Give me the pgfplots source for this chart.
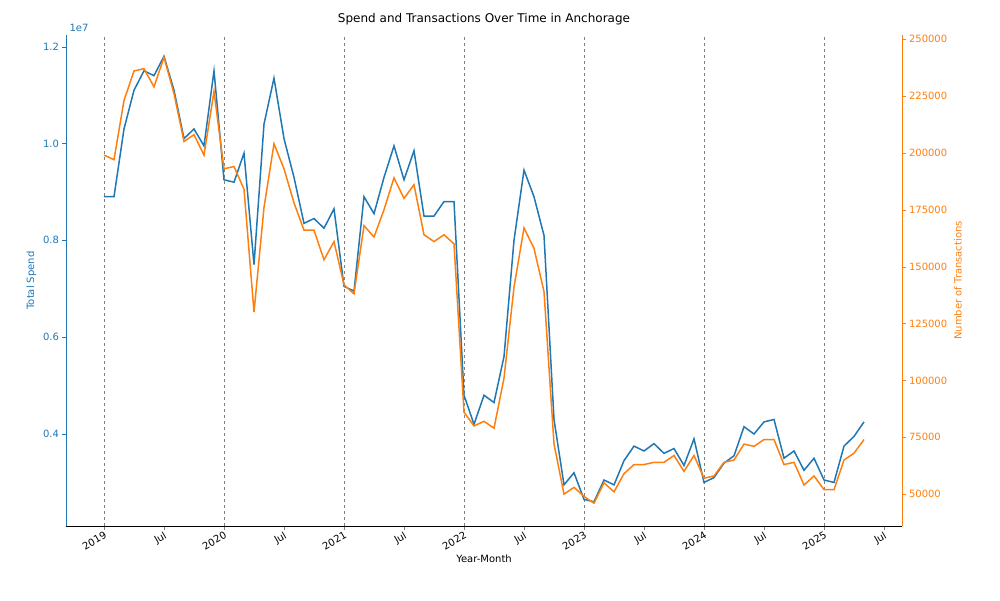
\documentclass[border=0pt]{standalone}
\usepackage{pgfplots}
\pgfplotsset{compat=1.18}
\usepackage{pgfplotstable}
\usepackage{fontspec}
\setmainfont{DejaVu Sans}
\definecolor{mblue}{HTML}{1F77B4}
\definecolor{morange}{HTML}{FF7F0E}
\pgfplotstableread{
m spend tx
0 8.9 199
1 8.9 197
2 10.3 223
3 11.1 236
4 11.5 237
5 11.4 229
6 11.8 242
7 11.1 226
8 10.1 205
9 10.3 208
10 9.95 199
11 11.5 227
12 9.25 193
13 9.2 194
14 9.8 184
15 7.5 130
16 10.4 176
17 11.35 204
18 10.1 193
19 9.3 178
20 8.35 166
21 8.45 166
22 8.25 153
23 8.65 161
24 7.05 142
25 6.95 138
26 8.9 168
27 8.55 163
28 9.3 175
29 9.95 189
30 9.25 180
31 9.85 186
32 8.5 164
33 8.5 161
34 8.8 164
35 8.8 160
36 4.8 86
37 4.2 80
38 4.8 82
39 4.65 79
40 5.6 101
41 8.0 141
42 9.45 167
43 8.9 158
44 8.1 139
45 4.3 72
46 2.95 50
47 3.2 53
48 2.65 49
49 2.6 46
50 3.05 55
51 2.95 51
52 3.45 59
53 3.75 63
54 3.65 63
55 3.8 64
56 3.6 64
57 3.7 67
58 3.35 60
59 3.9 67
60 3.0 57
61 3.1 58
62 3.4 64
63 3.55 65
64 4.15 72
65 4.0 71
66 4.25 74
67 4.3 74
68 3.5 63
69 3.65 64
70 3.25 54
71 3.5 58
72 3.05 52
73 3.0 52
74 3.75 65
75 3.95 68
76 4.25 74
}\data
\begin{document}
\begin{tikzpicture}[font=\fontsize{10}{12}\selectfont]
\begin{axis}[
  at={(0,0)}, anchor=south west,
  width=836pt, height=491pt, scale only axis,
  xmin=-3.8, xmax=79.8, ymin=2.1, ymax=12.24,
  axis y line*=left, axis x line*=bottom,
  xtick={0,6,...,78},
  xticklabels={2019,Jul,2020,Jul,2021,Jul,2022,Jul,2023,Jul,2024,Jul,2025,Jul},
  xticklabel style={rotate=30,anchor=north east,inner sep=1pt},
  ytick={4,6,8,10,12}, yticklabels={0.4,0.6,0.8,1.0,1.2},
  yticklabel style={text=mblue}, y axis line style={mblue}, ytick style={mblue},
  ylabel={Total Spend}, ylabel style={text=mblue},
  xlabel={Year-Month},
  title={Spend and Transactions Over Time in Anchorage},
  title style={font=\fontsize{12}{14}\selectfont},
  tick align=outside, tick pos=left,
  major tick length=3.5pt,
  clip=false,
]
\foreach \yr in {0,12,...,72}{
  \edef\tmp{\noexpand\draw[gray, dashed] (axis cs:\yr,2.1) -- (axis cs:\yr,12.24);}\tmp
}
\addplot[mblue, line width=1.5pt, no marks] table[x=m,y=spend]{\data};
\node[anchor=south west, text=mblue] at (rel axis cs:0,1) {1e7};
\end{axis}
\begin{axis}[
  at={(0,0)}, anchor=south west,
  width=836pt, height=491pt, scale only axis,
  xmin=-3.8, xmax=79.8, ymin=36, ymax=251.8,
  axis y line*=right, axis x line=none,
  ytick={50,75,...,250},
  yticklabels={50000,75000,100000,125000,150000,175000,200000,225000,250000},
  yticklabel style={text=morange}, y axis line style={morange}, ytick style={morange},
  ylabel={Number of Transactions}, ylabel style={text=morange},
  tick align=outside, major tick length=3.5pt,
]
\addplot[morange, line width=1.5pt, no marks] table[x=m,y=tx]{\data};
\end{axis}
\path[use as bounding box] (-66pt,-74pt) rectangle (934pt,526pt);
\end{tikzpicture}
\end{document}
